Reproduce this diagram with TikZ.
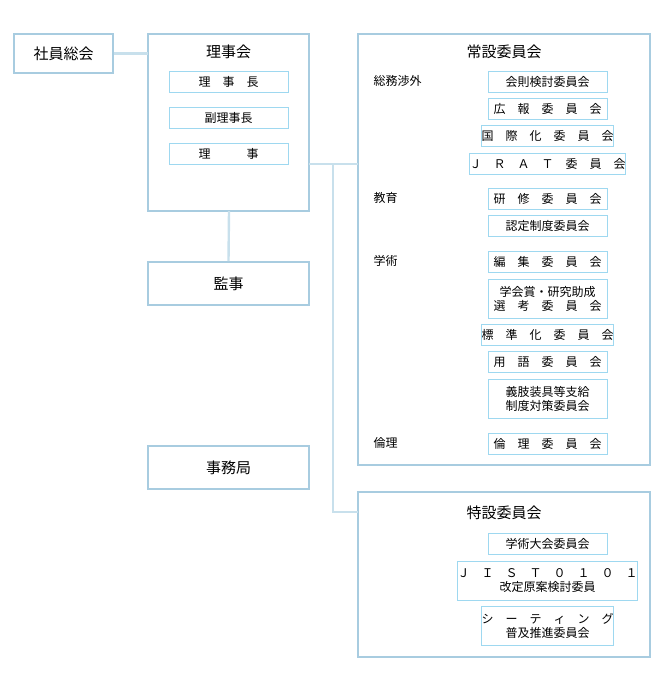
\documentclass[tikz,border=0pt]{standalone}
\usepackage{fontspec}
\setmainfont{Noto Sans CJK JP}
\usetikzlibrary{positioning}
\definecolor{frameblue}{HTML}{A8CCE0}
\definecolor{boxblue}{HTML}{9ED8F0}
\definecolor{lineblue}{HTML}{C8E0EC}
\begin{document}
\begin{tikzpicture}[x=1pt, y=-1pt,
frame/.style={draw=frameblue, line width=1.6pt},
member/.style={draw=boxblue, line width=1pt, minimum width=119pt, align=center, inner sep=0pt, font=\fontsize{12}{14}\selectfont},
title/.style={font=\fontsize{15}{17}\selectfont},
group/.style={font=\fontsize{12}{14}\selectfont, anchor=west},
link/.style={draw=lineblue, line width=2.4pt}]
%================================================================
% Frame
\useasboundingbox (0,0) rectangle (666,691);
% --------------------------------
% Left column
\node[frame, minimum width=99pt, minimum height=39pt, title] (soukai) at (63.5,53.5) {社員総会};
\draw[frame] (148,34) rectangle (309,211);
\coordinate (rijiTop) at (148,53.5);
\coordinate (rijiBot) at (229,211);
\coordinate (rijiRight) at (309,164);
\node[title] (rijikai) at (228.5,52) {理事会};
\node[member, minimum height=21pt] (r1) at (228.5,81.5) {理　事　長};
\node[member, minimum height=21pt] (r2) at (228.5,117.5) {副理事長};
\node[member, minimum height=21pt] (r3) at (228.5,153.5) {理　　　事};
\node[frame, minimum width=161pt, minimum height=43pt, title] (kanji) at (228.5,283.5) {監事};
\node[frame, minimum width=161pt, minimum height=43pt, title] (jimu) at (228.5,467.5) {事務局};
% --------------------------------
% Right column
\draw[frame] (358,34) rectangle (650,465);
\draw[frame] (358,492) rectangle (650,657);
\node[title] (jousetsu) at (504,52) {常設委員会};
\node[title] (tokusetsu) at (504,513) {特設委員会};
\coordinate (jouLeft) at (358,164);
\coordinate (tokuLeft) at (358,512);
\coordinate (branch) at (333,164);
\coordinate (branchEnd) at (333,512);

\node[group] (g1) at (370,81) {総務渉外};
\node[group] (g2) at (370,198) {教育};
\node[group] (g3) at (370,261) {学術};
\node[group] (g4) at (370,443) {倫理};

\node[member, minimum height=21pt] (c1) at (547.5,81.5) {会則検討委員会};
\node[member, minimum height=21pt] (c2) at (547.5,108.5) {広　報　委　員　会};
\node[member, minimum height=21pt] (c3) at (547.5,135.5) {国　際　化　委　員　会};
\node[member, minimum height=21pt] (c4) at (547.5,163.5) {Ｊ　Ｒ　Ａ　Ｔ　委　員　会};
\node[member, minimum height=21pt] (c5) at (547.5,198.5) {研　修　委　員　会};
\node[member, minimum height=21pt] (c6) at (547.5,225.5) {認定制度委員会};
\node[member, minimum height=21pt] (c7) at (547.5,261.5) {編　集　委　員　会};
\node[member, minimum height=39pt] (c8) at (547.5,298.5) {学会賞・研究助成\\選　考　委　員　会};
\node[member, minimum height=21pt] (c9) at (547.5,334.5) {標　準　化　委　員　会};
\node[member, minimum height=21pt] (c10) at (547.5,361.5) {用　語　委　員　会};
\node[member, minimum height=39pt] (c11) at (547.5,398.5) {義肢装具等支給\\制度対策委員会};
\node[member, minimum height=21pt] (c12) at (547.5,443.5) {倫　理　委　員　会};

\node[member, minimum height=21pt] (t1) at (547.5,543.5) {学術大会委員会};
\node[member, minimum height=39pt] (t2) at (547.5,580.5) {Ｊ　Ｉ　Ｓ　Ｔ　０　１　０　１\\改定原案検討委員};
\node[member, minimum height=39pt] (t3) at (547.5,625.5) {シ　ー　テ　ィ　ン　グ\\普及推進委員会};
%================================================================
% Links
\draw[link] (soukai.east) -- (rijiTop);
\draw[link] (rijiBot) -- (kanji.north);
\draw[link] (rijiRight) -- (jouLeft);
\draw[link] (branch) -- (branchEnd) -- (tokuLeft);
\end{tikzpicture}
\end{document}
